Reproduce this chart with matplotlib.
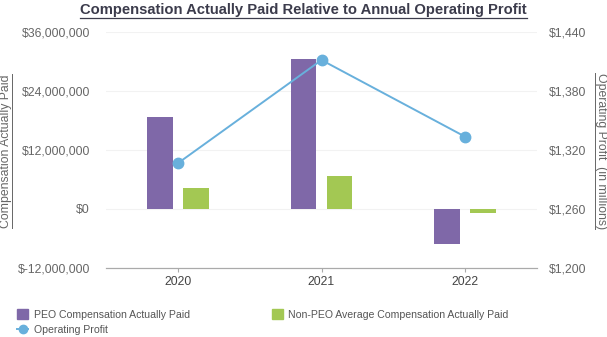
import numpy as np
import matplotlib
matplotlib.use("Agg")
import matplotlib.pyplot as plt
from matplotlib.lines import Line2D
from matplotlib.patches import Patch
from matplotlib.ticker import FuncFormatter

plt.rcParams["font.family"] = ["Liberation Sans", "DejaVu Sans"]

years = ["2020", "2021", "2022"]
peo_cap = [18_750_000, 30_500_000, -7_100_000]
non_peo_cap = [4_250_000, 6_650_000, -900_000]
operating_profit = [1306.5, 1411.5, 1333.5]

PURPLE = "#7f68a8"
GREEN = "#a3c853"
BLUE = "#68b0dc"
GREY = "#666666"
W, H = 607, 337

fig = plt.figure(figsize=(W / 100, H / 100), dpi=100)
ax = fig.add_axes([106 / W, 1 - 268 / H, (537 - 106) / W, (268 - 32) / H])
ax2 = ax.twinx()

x = np.arange(len(years))
w = 0.18
ax.bar(x - 0.125, peo_cap, w, color=PURPLE, zorder=2)
ax.bar(x + 0.125, non_peo_cap, w, color=GREEN, zorder=2)
ax2.plot(x, operating_profit, color=BLUE, lw=1.4, marker="o", ms=7.5, zorder=3)

ax.set_xlim(-0.5, 2.5)
ax.set_ylim(-12_000_000, 36_000_000)
ax.set_yticks(np.arange(-12_000_000, 36_000_001, 12_000_000))
ax.yaxis.set_major_formatter(FuncFormatter(lambda v, _: f"${v:,.0f}" if v >= 0 else f"$-{abs(v):,.0f}"))
ax2.set_ylim(1200, 1440)
ax2.set_yticks(np.arange(1200, 1441, 60))
ax2.yaxis.set_major_formatter(FuncFormatter(lambda v, _: f"${v:,.0f}"))

ax.set_xticks(x)
ax.set_xticklabels(years)
ax.grid(axis="y", color="#f2f2f2", lw=0.8, zorder=0)
ax.set_axisbelow(True)

for a in (ax, ax2):
    for s in ("top", "left", "right"):
        a.spines[s].set_visible(False)
    a.spines["bottom"].set_color("#aaaaaa")
    a.tick_params(axis="y", length=0, labelsize=8.8, labelcolor=GREY)
ax.tick_params(axis="x", length=3, color="#aaaaaa", labelsize=8.8, labelcolor="#444444", pad=3)
ax.tick_params(axis="y", pad=11.5)
ax2.tick_params(axis="y", pad=8.5)


def underlined(xf, yf, s, gap=1.5, **kw):
    # text plus a rule along its baseline side (works for 0/90/270 rotation)
    t = fig.text(xf, yf, s, **kw)
    fig.canvas.draw()
    bb = t.get_window_extent().transformed(fig.transFigure.inverted())
    rot = kw.get("rotation", 0)
    col = kw.get("color", "black")
    if rot == 90:
        xl = bb.x1 + gap / W
        fig.add_artist(Line2D([xl, xl], [bb.y0, bb.y1], color=col, lw=0.7))
    elif rot == 270:
        xl = bb.x0 - gap / W
        fig.add_artist(Line2D([xl, xl], [bb.y0, bb.y1], color=col, lw=0.7))
    else:
        yl = bb.y0 - gap / H
        fig.add_artist(Line2D([bb.x0, bb.x1], [yl, yl], color=col, lw=0.9))
    return t


underlined(6 / W, 1 - 151 / H, "Compensation Actually Paid", rotation=90,
           ha="center", va="center", fontsize=8.8, color=GREY, gap=0)
underlined(601 / W, 1 - 151 / H, "Operating Profit  (in millions)", rotation=270,
           ha="center", va="center", fontsize=8.8, color=GREY, gap=0)
underlined(0.5, 1 - 10 / H, "Compensation Actually Paid Relative to Annual Operating Profit",
           ha="center", va="center", fontsize=10.6, fontweight="bold", color="#3c3c4c", gap=0.5)

handles = [
    Patch(color=PURPLE, label="PEO Compensation Actually Paid"),
    Line2D([], [], color=BLUE, marker="o", ms=6, lw=1.4, label="Operating Profit"),
    Patch(color=GREEN, label="Non-PEO Average Compensation Actually Paid"),
]
leg = fig.legend(handles=handles, ncol=2, loc="upper left", bbox_to_anchor=(12 / W, 1 - 304 / H),
                 frameon=False, fontsize=7.6, handlelength=1.0, handleheight=1.0,
                 handletextpad=0.55, columnspacing=7.8, labelspacing=0.5, borderpad=0)
for t in leg.get_texts():
    t.set_color("#555555")

fig.savefig("out.png", dpi=100)
